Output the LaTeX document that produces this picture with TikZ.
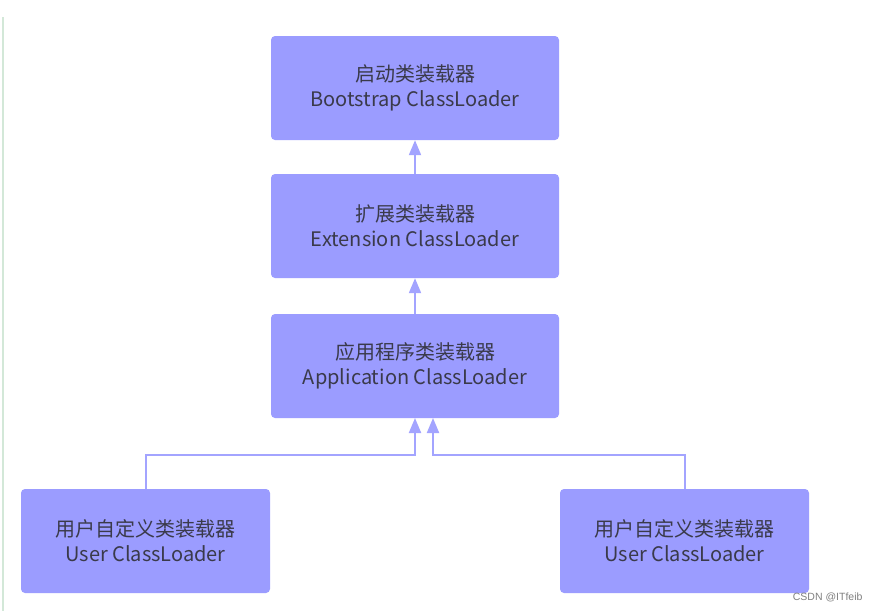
\documentclass[tikz,border=0pt]{standalone}
\usepackage{fontspec}
\setmainfont{Noto Sans CJK SC}
\newfontfamily\wmfont{Liberation Sans}
\usetikzlibrary{arrows.meta}
\definecolor{boxfill}{HTML}{9B9CFF}
\definecolor{boxtext}{HTML}{3A3A4A}
\definecolor{edgeline}{HTML}{A3A4FF}
\definecolor{greenline}{HTML}{D3E8D8}
\tikzset{
  loaderbox/.style={fill=boxfill, draw=none, rounded corners=4pt, minimum height=104pt,
    text=boxtext, font=\fontsize{20}{25}\selectfont, align=center, inner sep=0pt},
  wide/.style={loaderbox, minimum width=288pt},
  narrow/.style={loaderbox, minimum width=249pt},
  link/.style={draw=edgeline, line width=2pt, -{Triangle[width=12pt,length=15pt]}},
}
\begin{document}
\begin{tikzpicture}[x=1pt,y=-1pt]
\useasboundingbox (0,0) rectangle (880,611);
\fill[white] (0,0) rectangle (880,611);
\draw[greenline, line width=1.5pt] (3,17) -- (3,611);
\node[wide] (boot) at (415,88) {启动类装载器\\Bootstrap ClassLoader};
\node[wide] (ext) at (415,226) {扩展类装载器\\Extension ClassLoader};
\node[wide] (app) at (415,366) {应用程序类装载器\\Application ClassLoader};
\node[narrow] (userL) at (145.5,541) {用户自定义类装载器\\User ClassLoader};
\node[narrow] (userR) at (684.5,541) {用户自定义类装载器\\User ClassLoader};
\coordinate (appL) at (415,418);
\coordinate (appR) at (433,418);
\draw[link] (ext.north) -- (boot.south);
\draw[link] (app.north) -- (ext.south);
\draw[link] (userL.north) |- (415,455) -- (appL);
\draw[link] (userR.north) |- (433,455) -- (appR);
\node[text=gray, font=\wmfont\fontsize{10.5}{12}\selectfont, anchor=east] (wm) at (866,597) {CSDN @ITfeib};
\end{tikzpicture}
\end{document}
